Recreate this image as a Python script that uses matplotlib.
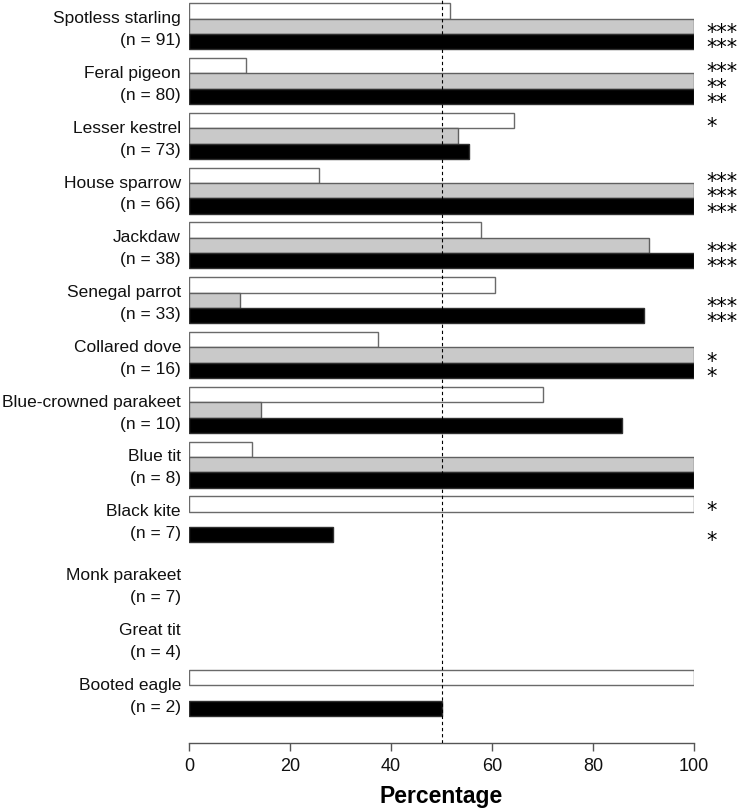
import numpy as np
import matplotlib
matplotlib.use('Agg')
import matplotlib.pyplot as plt

plt.rcParams['font.family'] = ['Liberation Sans', 'DejaVu Sans']

# data
species = ['Spotless starling', 'Feral pigeon', 'Lesser kestrel', 'House sparrow',
           'Jackdaw', 'Senegal parrot', 'Collared dove', 'Blue-crowned parakeet',
           'Blue tit', 'Black kite', 'Monk parakeet', 'Great tit', 'Booted eagle']
n_obs = [91, 80, 73, 66, 38, 33, 16, 10, 8, 7, 7, 4, 2]
nan = np.nan
white_pct = [51.6, 11.3, 64.4, 25.8, 57.9, 60.6, 37.5, 70.0, 12.5, 100, nan, nan, 100]
gray_pct = [100, 100, 53.3, 100, 91.0, 10.0, 100, 14.3, 100, nan, nan, nan, nan]
black_pct = [100, 100, 55.4, 100, 100, 90.0, 100, 85.7, 100, 28.6, nan, nan, 50]
white_sig = ['', '***', '*', '***', '', '', '', '', '', '*', '', '', '']
gray_sig = ['***', '**', '', '***', '***', '***', '*', '', '', '', '', '', '']
black_sig = ['***', '**', '', '***', '***', '***', '*', '', '', '*', '', '', '']

# group positions (last three groups sit a bit lower)
ypos = np.arange(len(species), dtype=float)
ypos[10:] += 0.17
bh = 0.28

fig = plt.figure(figsize=(7.4, 8.09), dpi=100)
ax = fig.add_axes([189 / 740, 66 / 809, 505 / 740, 743 / 809])

series = [(white_pct, white_sig, -bh, 'white', '#6a6a6a'),
          (gray_pct, gray_sig, 0.0, '#c9c9c9', '#606060'),
          (black_pct, black_sig, bh, 'black', '#303030')]
for vals, sigs, off, fc, ec in series:
    vals = np.array(vals, dtype=float)
    ok = ~np.isnan(vals)
    ax.barh(ypos[ok] + off, vals[ok], height=bh, color=fc, edgecolor=ec,
            linewidth=1.0, zorder=2)
    for y, s in zip(ypos + off, sigs):
        if s:
            ax.annotate(s, xy=(102.4, y), xytext=(0, -9.0),
                        textcoords='offset points', ha='left', va='baseline',
                        fontsize=15, family='DejaVu Sans', color='black',
                        annotation_clip=False)

for y, name, n in zip(ypos, species, n_obs):
    ax.text(-1.6, y - 0.14, name, ha='right', va='center', fontsize=12.5, color='#111111')
    ax.text(-1.6, y + 0.26, '(n = %d)' % n, ha='right', va='center', fontsize=12.5,
            color='#111111')

ax.axvline(50, color='black', linestyle=(0, (3, 2.5)), linewidth=0.8, zorder=3)

ax.set_xlim(0, 100)
ax.set_ylim(13.08, -0.48)
ax.set_xticks([0, 20, 40, 60, 80, 100])
ax.set_yticks([])
for side in ['left', 'right', 'top']:
    ax.spines[side].set_visible(False)
ax.spines['bottom'].set_color('#555555')
ax.spines['bottom'].set_linewidth(1.0)
ax.tick_params(axis='x', length=6, width=1.0, color='#555555', pad=5,
               labelsize=13, labelcolor='#111111')
ax.set_xlabel('Percentage', fontsize=16.5, fontweight='bold', labelpad=7)

fig.savefig('out.png', dpi=100)
